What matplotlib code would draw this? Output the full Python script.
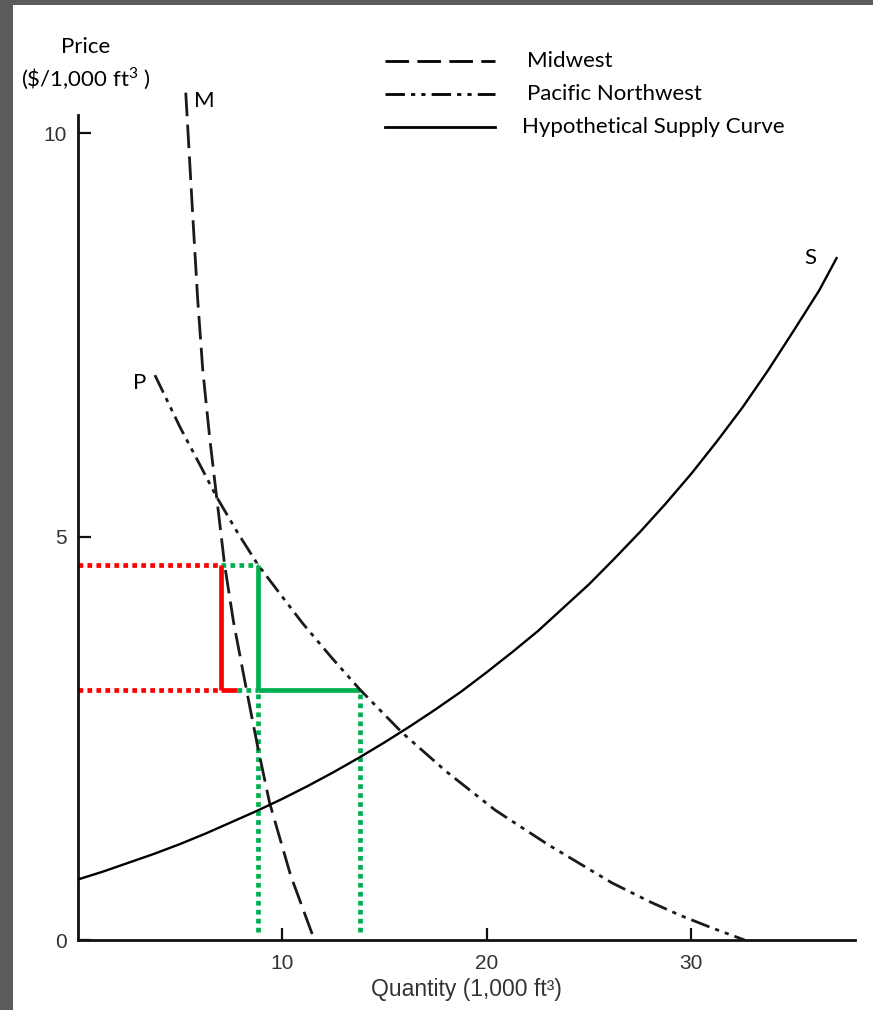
import matplotlib
matplotlib.use('Agg')
import matplotlib.pyplot as plt
from matplotlib.lines import Line2D
from matplotlib.patches import Rectangle

plt.rcParams['mathtext.fontset'] = 'custom'
plt.rcParams['mathtext.rm'] = 'Lato'

# values
# Midwest demand curve (M)
mw_q = [5.27, 5.45, 5.63, 5.85, 6.1, 6.45, 6.78, 7.17, 7.6, 8.24, 8.8, 9.37, 10.4, 11.56]
mw_p = [10.5, 9.7, 8.9, 7.95, 7.07, 6.2, 5.49, 4.65, 3.95, 3.1, 2.38, 1.70, 0.8, 0.0]
# Pacific Northwest demand curve (P)
pnw_q = [3.76, 5.0, 6.0, 6.78, 7.8, 8.8, 10.0, 11.0, 12.4, 13.8, 15.85, 18.0, 20.4,
         23.0, 26.1, 28.0, 29.5, 31.0, 32.6]
pnw_p = [7.0, 6.35, 5.87, 5.49, 5.05, 4.65, 4.25, 3.92, 3.5, 3.1, 2.57, 2.09, 1.61,
         1.18, 0.71, 0.47, 0.30, 0.15, 0.0]
# hypothetical supply curve (S)
sup_q = [0.0, 1.25, 2.5, 3.75, 5.0, 6.25, 7.5, 8.75, 10.0, 11.25, 12.5, 13.75, 15.0, 16.25,
         17.5, 18.75, 20.0, 21.25, 22.5, 23.75, 25.0, 26.25, 27.5, 28.75, 30.0, 31.25,
         32.5, 33.75, 35.0, 36.25, 37.1]
sup_p = [0.75, 0.85, 0.96, 1.07, 1.19, 1.32, 1.46, 1.60, 1.75, 1.91, 2.08, 2.26, 2.45, 2.65,
         2.86, 3.08, 3.32, 3.57, 3.83, 4.12, 4.41, 4.73, 5.06, 5.41, 5.78, 6.18,
         6.60, 7.06, 7.55, 8.05, 8.45]

# price levels and quantities for the highlighted boxes
p_hi = 4.65
p_lo = 3.1
q_mw = 7.0
q_mw_tail = 7.8
q_pnw_hi = 8.8
q_pnw_lo = 13.8

xticks = [10, 20, 30]
yticks = [0, 5, 10]
series_names = ['Midwest', 'Pacific Northwest', 'Hypothetical Supply Curve']

W, H = 873, 1010
fig = plt.figure(figsize=(W / 100., H / 100.), dpi=100)
fig.patch.set_facecolor('#5b5b5b')
fig.add_artist(Rectangle((13. / W, 0), 1, (H - 5.) / H, transform=fig.transFigure,
                         facecolor='white', edgecolor='none', zorder=0))

# y: 0 at 940px, 80.7 px per unit; x: 0 at 78px, 20.45 px per unit
ax = fig.add_axes([78. / W, 70. / H, 777. / W, 855.4 / H])
ax.patch.set_alpha(0)
ax.set_xlim(0, 38)
ax.set_ylim(0, 10.6)

RED = '#ff0000'
GREEN = '#00b050'
dots = (0, (1.0, 0.9))
lwc = 3.4

# red (Midwest) box
ax.plot([0, q_mw], [p_hi, p_hi], color=RED, lw=lwc, ls=dots, zorder=1)
ax.plot([0, q_mw], [p_lo, p_lo], color=RED, lw=lwc, ls=dots, zorder=1)
ax.plot([q_mw, q_mw], [p_lo, p_hi], color=RED, lw=lwc, solid_capstyle='butt', zorder=2)
ax.plot([q_mw, q_mw_tail], [p_lo, p_lo], color=RED, lw=lwc, solid_capstyle='butt', zorder=2)

# green (Pacific Northwest) box
ax.plot([q_mw, q_pnw_hi], [p_hi, p_hi], color=GREEN, lw=lwc, ls=dots, zorder=1)
ax.plot([q_mw_tail, q_pnw_hi], [p_lo, p_lo], color=GREEN, lw=lwc, ls=dots, zorder=1)
ax.plot([q_pnw_hi, q_pnw_hi], [p_lo, p_hi], color=GREEN, lw=lwc, solid_capstyle='butt', zorder=2)
ax.plot([q_pnw_hi, q_pnw_lo], [p_lo, p_lo], color=GREEN, lw=lwc, solid_capstyle='butt', zorder=2)
ax.plot([q_pnw_hi, q_pnw_hi], [0.1, p_lo], color=GREEN, lw=lwc, ls=dots, zorder=1)
ax.plot([q_pnw_lo, q_pnw_lo], [0.1, p_lo], color=GREEN, lw=lwc, ls=dots, zorder=1)

# curves
mw_style = (0, (8.5, 3))
pnw_style = (0, (7, 2.2, 1.5, 2.2, 1.5, 2.2))
ax.plot(mw_q, mw_p, color='#1a1a1a', lw=2.0, ls=mw_style, zorder=3)
ax.plot(pnw_q, pnw_p, color='#1a1a1a', lw=2.0, ls=pnw_style, zorder=3)
ax.plot(sup_q, sup_p, color='black', lw=1.7, zorder=3)

tfont = 'Lato'
ax.text(6.2, 10.4, 'M', fontsize=16, family=tfont, va='center', ha='center')
ax.text(3.0, 6.9, 'P', fontsize=16, family=tfont, va='center', ha='center')
ax.text(35.8, 8.45, 'S', fontsize=16, family=tfont, va='center', ha='center')

# axes styling
for s in ['top', 'right']:
    ax.spines[s].set_visible(False)
for s in ['left', 'bottom']:
    ax.spines[s].set_linewidth(2.0)
    ax.spines[s].set_color('#111111')
ax.spines['left'].set_bounds(0, 10.22)
ax.set_xticks(xticks)
ax.set_yticks(yticks)
ax.tick_params(axis='both', direction='in', length=9, width=1.6, color='#111111',
               labelsize=15, labelcolor='#333333')
ax.tick_params(axis='x', pad=10)
ax.tick_params(axis='y', pad=8)
for lab in ax.get_xticklabels() + ax.get_yticklabels():
    lab.set_family('Liberation Sans')
ax.set_xlabel('Quantity (1,000 ft³)', fontsize=16.5, family='Liberation Sans',
              color='#333333', labelpad=4)

# y label at top left
fig.text(86. / W, 1 - 47. / H, 'Price', fontsize=16, family=tfont, ha='center', va='center')
fig.text(86. / W, 1 - 79. / H, r'(\$/1,000 ft$^3$ )', fontsize=16, family=tfont,
         ha='center', va='center')

# hand-made legend
leg_styles = [dict(ls=mw_style), dict(ls=pnw_style), dict(ls='-')]
leg_y = [61, 94, 127]
leg_tx = [527, 527, 522]
for name, st, yy, tx in zip(series_names, leg_styles, leg_y, leg_tx):
    fig.add_artist(Line2D([385. / W, 495. / W], [1 - yy / H, 1 - yy / H],
                          transform=fig.transFigure, color='black', lw=2.0, **st))
    fig.text(tx / W, 1 - yy / H, name, fontsize=16, family=tfont, ha='left', va='center')

plt.savefig('out.png', dpi=100, facecolor=fig.get_facecolor())
